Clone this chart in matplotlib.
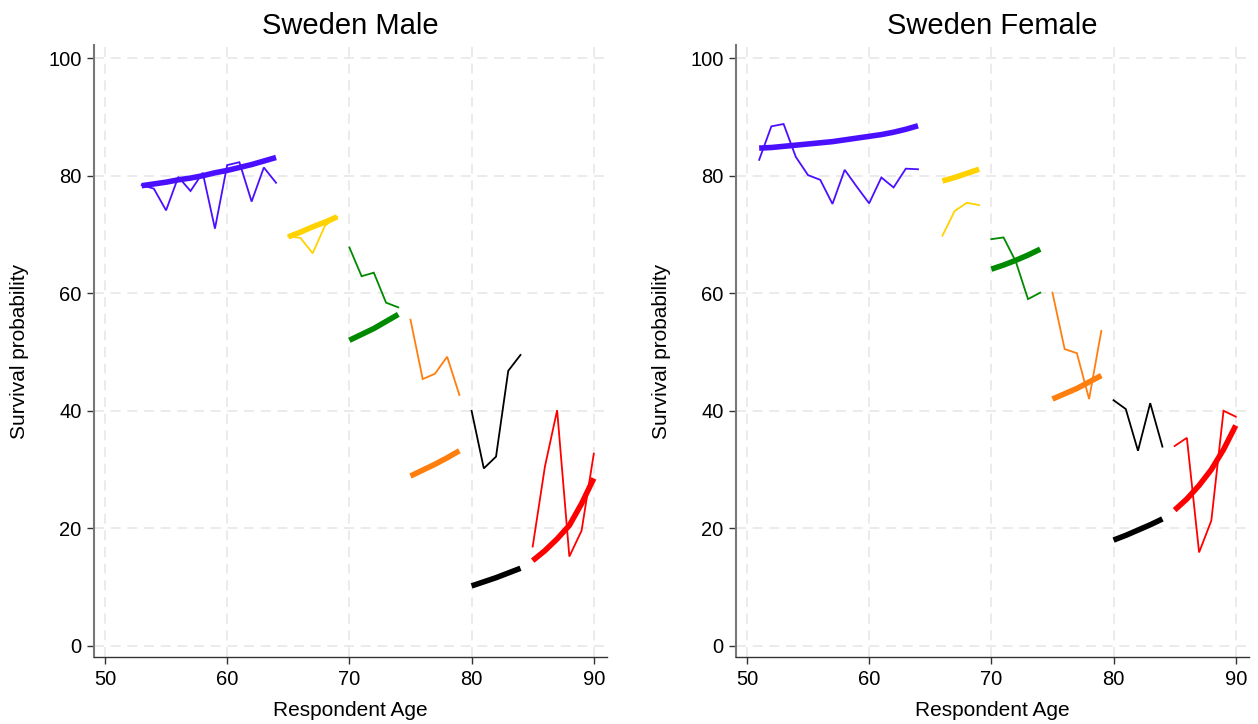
import matplotlib.pyplot as plt
import matplotlib as mpl

mpl.rcParams['font.family'] = ['Liberation Sans', 'DejaVu Sans']

# age groups and colours (same for both panels)
group_colors = ['#4B0FFF', '#FFD200', '#008A00', '#FF7F0E', '#000000', '#FF0000']

# Sweden Male: observed (thin) and fitted (thick) survival probability by age
male_ages = [
    [53, 54, 55, 56, 57, 58, 59, 60, 61, 62, 63, 64],
    [65, 66, 67, 68, 69],
    [70, 71, 72, 73, 74],
    [75, 76, 77, 78, 79],
    [80, 81, 82, 83, 84],
    [85, 86, 87, 88, 89, 90],
]
male_obs = [
    [78.4, 77.8, 74.1, 79.8, 77.4, 80.5, 71.0, 81.8, 82.3, 75.6, 81.4, 78.8],
    [69.7, 69.4, 66.8, 71.5, 73.0],
    [67.8, 62.9, 63.5, 58.4, 57.6],
    [55.5, 45.4, 46.3, 49.2, 42.7],
    [40.0, 30.2, 32.2, 46.8, 49.5],
    [16.9, 30.5, 40.1, 15.2, 19.6, 32.7],
]
male_fit = [
    [78.3, 78.6, 78.9, 79.3, 79.6, 80.0, 80.5, 80.9, 81.4, 81.9, 82.5, 83.1],
    [69.6, 70.4, 71.3, 72.1, 73.0],
    [52.0, 53.0, 54.0, 55.2, 56.4],
    [28.9, 29.9, 30.9, 32.0, 33.2],
    [10.2, 10.9, 11.6, 12.4, 13.2],
    [14.5, 16.2, 18.2, 20.5, 24.2, 28.5],
]

# Sweden Female
female_ages = [
    [51, 52, 53, 54, 55, 56, 57, 58, 59, 60, 61, 62, 63, 64],
    [66, 67, 68, 69],
    [70, 71, 72, 73, 74],
    [75, 76, 77, 78, 79],
    [80, 81, 82, 83, 84],
    [85, 86, 87, 88, 89, 90],
]
female_obs = [
    [82.7, 88.4, 88.8, 83.2, 80.1, 79.3, 75.2, 81.0, 78.1, 75.3, 79.7, 78.0, 81.2, 81.1],
    [69.8, 74.0, 75.4, 75.0],
    [69.2, 69.5, 65.4, 59.0, 60.1],
    [60.1, 50.5, 49.8, 42.0, 53.6],
    [41.8, 40.3, 33.2, 41.3, 33.9],
    [34.0, 35.4, 15.9, 21.3, 40.0, 39.0],
]
female_fit = [
    [84.7, 84.8, 85.0, 85.2, 85.4, 85.6, 85.8, 86.1, 86.4, 86.7, 87.0, 87.4, 87.9, 88.5],
    [79.1, 79.7, 80.4, 81.1],
    [64.1, 64.8, 65.6, 66.5, 67.5],
    [42.0, 42.9, 43.8, 44.9, 46.0],
    [18.0, 18.8, 19.7, 20.6, 21.6],
    [23.1, 25.0, 27.3, 30.0, 33.4, 37.5],
]

x_ticks = [50, 60, 70, 80, 90]
y_ticks = [0, 20, 40, 60, 80, 100]


def draw_panel(ax, title, ages, obs, fit):
    # thin observed lines first, thick fitted curves on top
    for a, o, c in zip(ages, obs, group_colors):
        ax.plot(a, o, color=c, lw=1.3, solid_joinstyle='miter')
    for a, f, c in zip(ages, fit, group_colors):
        ax.plot(a, f, color=c, lw=4.0, solid_capstyle='butt')

    ax.set_xlim(49.1, 91.1)
    ax.set_ylim(-1.9, 102.2)
    ax.set_xticks(x_ticks)
    ax.set_yticks(y_ticks)
    ax.grid(True, color='#e8e8e8', lw=1.2, ls=(0, (6, 4)))
    ax.set_axisbelow(True)
    for s in ['top', 'right']:
        ax.spines[s].set_visible(False)
    ax.spines['left'].set_color('#777777')
    ax.spines['left'].set_linewidth(1.5)
    ax.spines['bottom'].set_color('#333333')
    ax.spines['bottom'].set_linewidth(1.0)
    ax.tick_params(direction='out', length=5, width=1.0, color='#333333',
                   labelsize=14.5, pad=4)
    ax.set_title(title, fontsize=21, pad=8)
    ax.set_xlabel("Respondent Age", fontsize=15, labelpad=9)
    ax.set_ylabel("Survival probability", fontsize=15, labelpad=14)


fig = plt.figure(figsize=(12.58, 7.24), dpi=100)
ax1 = fig.add_axes([0.0747, 0.0925, 0.408, 0.845])
ax2 = fig.add_axes([0.585, 0.0925, 0.408, 0.845])

draw_panel(ax1, "Sweden Male", male_ages, male_obs, male_fit)
draw_panel(ax2, "Sweden Female", female_ages, female_obs, female_fit)

fig.savefig("out.png", dpi=100)
